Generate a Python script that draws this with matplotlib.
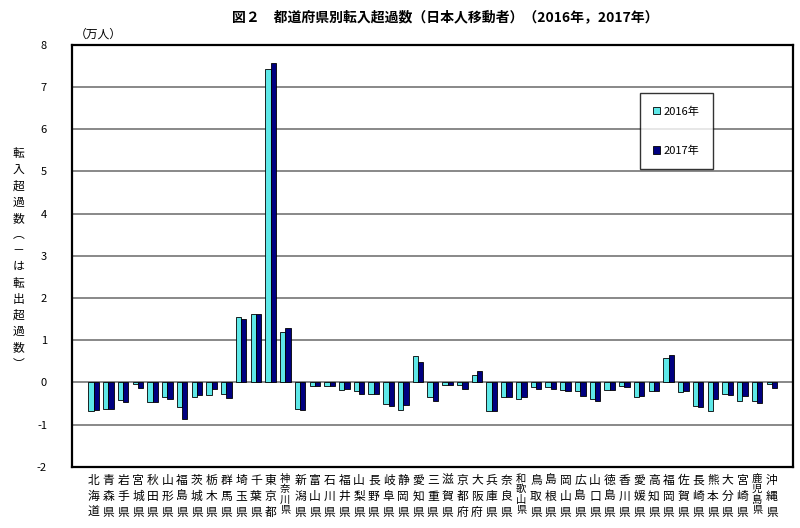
import matplotlib
matplotlib.use("Agg")
import matplotlib.pyplot as plt
import matplotlib.transforms as mtransforms
import numpy as np

plt.rcParams['font.family'] = ['Noto Sans CJK JP', 'DejaVu Sans']

# prefectures (north to south)
prefs = ["北海道", "青森県", "岩手県", "宮城県", "秋田県", "山形県", "福島県",
         "茨城県", "栃木県", "群馬県", "埼玉県", "千葉県", "東京都", "神奈川県",
         "新潟県", "富山県", "石川県", "福井県", "山梨県", "長野県", "岐阜県",
         "静岡県", "愛知県", "三重県", "滋賀県", "京都府", "大阪府", "兵庫県",
         "奈良県", "和歌山県", "鳥取県", "島根県", "岡山県", "広島県", "山口県",
         "徳島県", "香川県", "愛媛県", "高知県", "福岡県", "佐賀県", "長崎県",
         "熊本県", "大分県", "宮崎県", "鹿児島県", "沖縄県"]

# net in-migration (10,000 persons)
v2016 = [-0.69, -0.63, -0.41, -0.05, -0.46, -0.35, -0.59, -0.35, -0.31, -0.28,
         1.56, 1.62, 7.44, 1.20, -0.62, -0.08, -0.08, -0.19, -0.21, -0.28,
         -0.51, -0.66, 0.63, -0.35, -0.07, -0.07, 0.17, -0.69, -0.35, -0.39,
         -0.11, -0.11, -0.17, -0.20, -0.39, -0.17, -0.08, -0.35, -0.20, 0.58,
         -0.23, -0.57, -0.69, -0.28, -0.43, -0.45, -0.04]
v2017 = [-0.66, -0.63, -0.46, -0.13, -0.46, -0.39, -0.86, -0.31, -0.16, -0.37,
         1.50, 1.62, 7.58, 1.30, -0.66, -0.09, -0.08, -0.16, -0.28, -0.28,
         -0.57, -0.54, 0.48, -0.43, -0.07, -0.16, 0.28, -0.69, -0.35, -0.35,
         -0.15, -0.15, -0.21, -0.33, -0.43, -0.17, -0.10, -0.33, -0.21, 0.64,
         -0.21, -0.59, -0.39, -0.31, -0.33, -0.49, -0.13]
series_names = ["2016年", "2017年"]
yticks = list(range(-2, 9))

fig = plt.figure(figsize=(8, 5.28), dpi=100)
ax = fig.add_axes([0.09, 0.116, 0.901, 0.799])

x = np.arange(len(prefs))
w = 0.36
ax.bar(x - w / 2, v2016, w, color="#5ee8e8", edgecolor="black", linewidth=0.6,
       label=series_names[0], zorder=3)
ax.bar(x + w / 2, v2017, w, color="#000080", edgecolor="black", linewidth=0.6,
       label=series_names[1], zorder=3)

ax.set_xlim(-1.47, len(prefs) - 1 + 1.42)
ax.set_ylim(-2, 8)
ax.set_yticks(yticks)
ax.set_yticklabels([str(t) for t in yticks], fontsize=8)
ax.tick_params(axis="y", length=0, pad=18)
ax.set_xticks([])
for t in yticks[1:-1]:
    ax.axhline(t, color="#7f7f7f", linewidth=1.3, zorder=1)
for s in ax.spines.values():
    s.set_linewidth(1.6)
    s.set_color("black")

# vertical category labels
trans = mtransforms.blended_transform_factory(ax.transData, ax.transAxes)
for i, name in enumerate(prefs):
    if len(name) > 3:
        ax.text(i, -0.016, "\n".join(name), transform=trans, ha="center", va="top",
                fontsize=7.4, linespacing=1.07)
    else:
        ax.text(i, -0.016, "\n".join(name), transform=trans, ha="center", va="top",
                fontsize=8.5, linespacing=1.3)

ax.legend(loc="upper left", bbox_to_anchor=(0.8, 0.824), bbox_transform=fig.transFigure,
          fontsize=8, frameon=True, fancybox=False, edgecolor="black",
          labelspacing=2.6, handlelength=0.6, handleheight=0.6, handletextpad=0.3,
          borderpad=1.2, borderaxespad=0)

fig.text(0.556, 0.968, "図２　都道府県別転入超過数（日本人移動者）（2016年，2017年）",
         ha="center", va="center", fontsize=10, fontweight="bold")
fig.text(0.093, 0.935, "（万人）", ha="left", va="center", fontsize=8.5)

ylabel = "転入超過数︵－は転出超過数︶"
fig.text(0.023, 0.51, "\n".join(ylabel), ha="center", va="center",
         fontsize=8.5, linespacing=1.32)

fig.savefig("out.png", dpi=100)
